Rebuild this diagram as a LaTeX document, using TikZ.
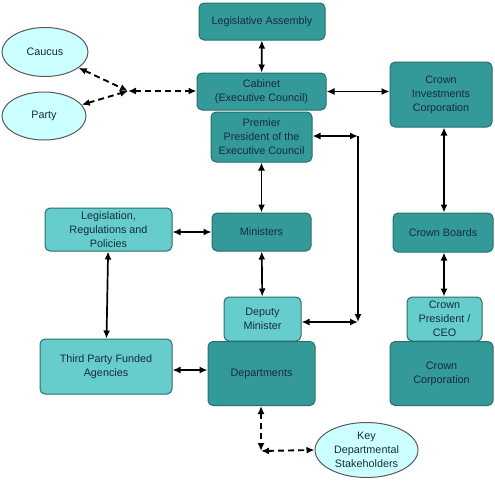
\documentclass[tikz,border=0pt]{standalone}
\usepackage{fontspec}
\setmainfont{Liberation Sans}
\usetikzlibrary{positioning, arrows.meta, calc, shapes.geometric}
\usepackage{xcolor}
\definecolor{darkteal}{RGB}{51,153,153}
\definecolor{lightteal}{RGB}{102,204,204}
\definecolor{palecyan}{RGB}{204,255,255}
\definecolor{edgeteal}{RGB}{40,110,110}
\definecolor{labeltext}{RGB}{20,45,60}

\begin{document}
\begin{tikzpicture}[
        x=1pt, y=-1pt,
        unit/.style={rectangle, rounded corners=5pt, draw=edgeteal, line width=1pt, fill=darkteal, align=center, inner sep=1pt, text=labeltext, font=\fontsize{10.8}{14}\selectfont},
        subunit/.style={unit, fill=lightteal},
        outside/.style={ellipse, draw=gray!70!black, line width=1pt, fill=palecyan, align=center, inner sep=0pt, text=labeltext, font=\fontsize{10.8}{14}\selectfont},
        arrow/.style={{Latex[length=8pt,width=7pt]}-{Latex[length=8pt,width=7pt]}, line width=1.7pt},
        oneway/.style={-{Latex[length=8pt,width=7pt]}, line width=1.7pt},
        link/.style={arrow, dashed, dash pattern=on 6pt off 4pt, line width=1.9pt}
    ]
        \useasboundingbox (0,0) rectangle (495,480);

        % Government side
        \node (assembly) [unit, minimum width=126pt, minimum height=37pt] at (262,21.5) {Legislative Assembly};
        \node (cabinet) [unit, minimum width=129pt, minimum height=37pt] at (261.5,91.5) {Cabinet\\(Executive Council)};
        \node (premier) [unit, minimum width=101pt, minimum height=50pt] at (261.5,137) {Premier\\President of the\\Executive Council};
        \node (ministers) [unit, minimum width=99pt, minimum height=38pt] at (261.5,232) {Ministers};
        \node (deputy) [subunit, minimum width=77pt, minimum height=44pt] at (262.5,319) {Deputy\\Minister};
        \node (departments) [unit, minimum width=107pt, minimum height=64pt] at (261.5,373.5) {Departments};
        \node (legis) [subunit, minimum width=127pt, minimum height=43pt] at (108.5,229.5) {Legislation,\\Regulations and\\Policies};
        \node (agencies) [subunit, minimum width=132pt, minimum height=55pt] at (106,366.5) {Third Party Funded\\Agencies};

        % Crown side
        \node (crowninv) [unit, minimum width=102pt, minimum height=65pt] at (441,94.5) {Crown\\Investments\\Corporation};
        \node (boards) [unit, minimum width=100pt, minimum height=39pt] at (443,232.5) {Crown Boards};
        \node (ceo) [subunit, minimum width=75pt, minimum height=44pt] at (444.5,319) {Crown\\President /\\CEO};
        \node (crowncorp) [unit, minimum width=103pt, minimum height=64pt] at (441.5,373.5) {Crown\\Corporation};

        % Outside groups
        \node (caucus) [outside, minimum width=86pt, minimum height=49pt] at (45,52) {Caucus};
        \node (party) [outside, minimum width=84pt, minimum height=48pt] at (44,116) {Party};
        \node (stake) [outside, minimum width=103pt, minimum height=55pt] at (366.5,450) {Key\\Departmental\\Stakeholders};

        \coordinate (meet) at (128,91);
        \coordinate (ptop) at (358,136);
        \coordinate (pbot) at (358,322);
        \coordinate (dcorner) at (261,451);

        % Arrows
        \draw [arrow] (assembly) -- (cabinet);
        \draw [arrow] (cabinet.east) -- (cabinet.east -| crowninv.west);
        \draw [arrow] (premier) -- (ministers);
        \draw [arrow] (ministers) -- (deputy);
        \draw [arrow] (legis.east |- ministers) -- (ministers.west);
        \draw [arrow] (legis) -- (agencies);
        \draw [arrow] (agencies.east |- 0,370) -- (departments.west |- 0,370);
        \draw [arrow] (crowninv.south -| 444,0) -- (boards.north -| 444,0);
        \draw [arrow] (boards.south -| 444,0) -- (ceo.north -| 444,0);
        \draw [arrow] (premier.east |- ptop) -- (ptop);
        \draw [oneway] (ptop) -- (pbot);
        \draw [arrow] (deputy.east |- pbot) -- (pbot);

        % Dashed links
        \draw [link] (caucus) -- (meet);
        \draw [link] (party) -- (meet);
        \draw [link] (meet) -- (cabinet.west |- meet);
        \draw [link] (departments.south -| dcorner) -- (dcorner);
        \draw [link] (dcorner) -- (stake.west);
    \end{tikzpicture}
\end{document}
